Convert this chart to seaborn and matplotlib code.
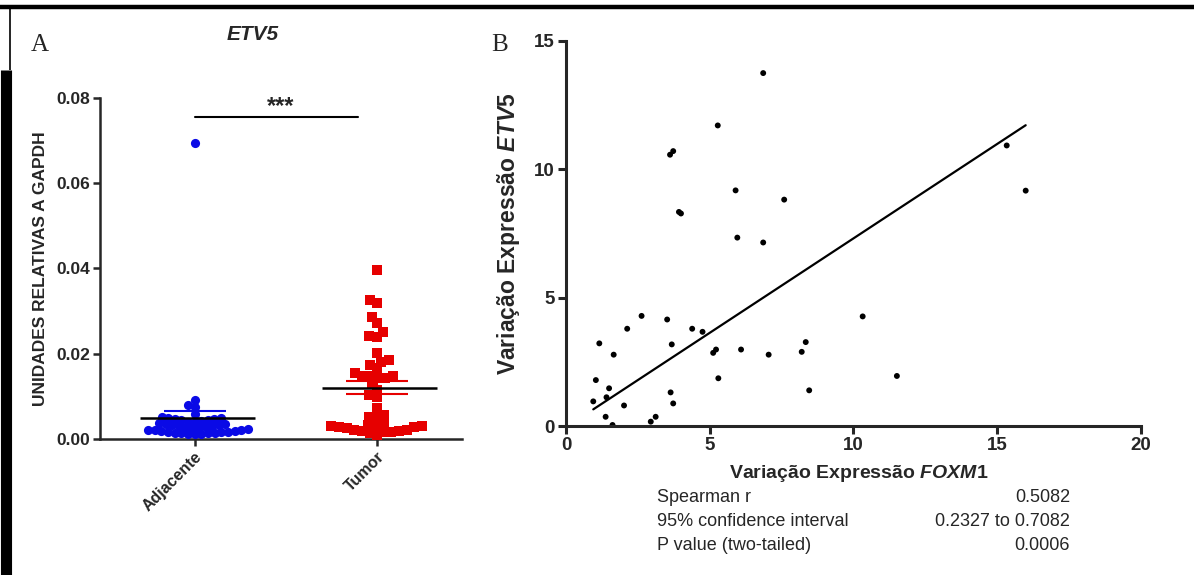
import numpy as np
import pandas as pd
import matplotlib
matplotlib.use("Agg")
import matplotlib.pyplot as plt
from matplotlib.lines import Line2D
import seaborn as sns

# ---------------- data ----------------
categories = ["Adjacente", "Tumor"]
adjacente = [0.0695, 0.0092, 0.0080, 0.0076, 0.0058, 0.0052, 0.0050, 0.0049, 0.0048,
             0.0046, 0.0045, 0.0044, 0.0042, 0.0041, 0.0039, 0.0038, 0.0036, 0.0035,
             0.0034, 0.0032, 0.0031, 0.0030, 0.0028, 0.0027, 0.0026, 0.0025, 0.0023,
             0.0022, 0.0021, 0.0020, 0.0019, 0.0018, 0.0017, 0.0016, 0.0016, 0.0015,
             0.0014, 0.0014, 0.0013, 0.0012, 0.0012, 0.0011]
tumor = [0.0396, 0.0327, 0.0319, 0.0286, 0.0272, 0.0241, 0.0239, 0.0250, 0.0202,
         0.0180, 0.0174, 0.0186, 0.0155, 0.0166, 0.0148, 0.0143, 0.0143, 0.0147,
         0.0148, 0.0130, 0.0116, 0.0098, 0.0104, 0.0073, 0.0052, 0.0049, 0.0057,
         0.0034, 0.0032, 0.0031, 0.0030, 0.0029, 0.0028, 0.0027, 0.0026,
         0.0021, 0.0020, 0.0019, 0.0018, 0.0017, 0.0016, 0.0015, 0.0006]

foxm1 = [6.86, 5.28, 3.73, 3.62, 5.90, 7.59, 3.93, 4.00, 5.96, 6.86, 15.33, 15.99,
         10.32, 2.63, 3.52, 2.13, 4.39, 4.75, 1.16, 3.68, 8.34, 1.66, 5.12, 5.22,
         6.09, 7.05, 8.20, 1.04, 5.30, 11.51, 8.46, 1.50, 1.41, 3.64, 0.95, 2.02,
         3.73, 1.38, 3.12, 2.95, 1.62]
etv5 = [13.75, 11.71, 10.71, 10.57, 9.18, 8.82, 8.34, 8.28, 7.34, 7.15, 10.93, 9.17,
        4.27, 4.29, 4.15, 3.79, 3.79, 3.67, 3.22, 3.18, 3.27, 2.78, 2.85, 2.98,
        2.98, 2.78, 2.89, 1.79, 1.86, 1.95, 1.39, 1.47, 1.12, 1.31, 0.96, 0.80,
        0.88, 0.36, 0.36, 0.17, 0.04]

# regression line as printed in the figure (slope, intercept)
fit_slope = 0.736
fit_intercept = -0.05

stat_labels = ["Spearman r", "95% confidence interval", "P value (two-tailed)"]
stat_values = ["0.5082", "0.2327 to 0.7082", "0.0006"]

# ---------------- style ----------------
sns.set_style("ticks")
plt.rcParams["font.family"] = ["Liberation Sans", "DejaVu Sans"]
plt.rcParams["mathtext.fontset"] = "custom"
plt.rcParams["mathtext.it"] = "Liberation Sans:italic:bold"
plt.rcParams["mathtext.rm"] = "Liberation Sans:bold"

fig = plt.figure(figsize=(11.94, 5.75), dpi=100)
axA = fig.add_axes([0.0838, 0.2365, 0.3032, 0.5931])
axB = fig.add_axes([0.474, 0.2591, 0.4816, 0.6696])

BLUE = "#0a0ae6"
RED = "#e60000"

# ---------------- panel A ----------------
dfA = pd.DataFrame({"grupo": [categories[0]] * len(adjacente) + [categories[1]] * len(tumor),
                    "valor": adjacente + tumor})
specs = [(categories[0], BLUE, "o", 4.6, 6.6), (categories[1], RED, "s", 5.4, 7.0)]
swarm_sets = []
for cat, col, mk, layout_size, draw_size in specs:
    n_before = len(axA.collections)
    sns.swarmplot(data=dfA[dfA.grupo == cat], x="grupo", y="valor", order=categories,
                  color=col, marker=mk, size=layout_size, ax=axA, warn_thresh=1)
    swarm_sets.append((axA.collections[n_before:], draw_size))

for i, vals in enumerate([adjacente, tumor]):
    v = np.array(vals)
    m = v.mean()
    se = v.std(ddof=1) / np.sqrt(len(v))
    c = BLUE if i == 0 else RED
    axA.hlines(m, i - 0.3, i + 0.33, color="black", lw=1.8, zorder=5)
    axA.vlines(i, m - se, m + se, color=c, lw=1.5, zorder=4)
    axA.hlines([m - se, m + se], i - 0.17, i + 0.17, color=c, lw=1.5, zorder=4)

axA.plot([0, 0.9], [0.0755, 0.0755], color="black", lw=1.5)
axA.text(0.47, 0.0752, "***", ha="center", va="bottom", fontsize=17, fontweight="bold")

axA.set_xlim(-0.52, 1.47)
axA.set_ylim(0, 0.08)
axA.set_yticks([0.0, 0.02, 0.04, 0.06, 0.08])
axA.set_yticklabels(["0.00", "0.02", "0.04", "0.06", "0.08"], fontsize=12.5, fontweight="bold")
axA.set_xticks([0, 1])
axA.set_xticklabels(categories, rotation=45, ha="right", rotation_mode="anchor",
                    fontsize=11.5, fontweight="bold")
axA.set_xlabel("")
axA.set_ylabel("UNIDADES RELATIVAS A GAPDH", fontsize=12.5, fontweight="bold")
axA.yaxis.set_label_coords(-0.145, 0.5)
sns.despine(ax=axA)
for s in ["left", "bottom"]:
    axA.spines[s].set_linewidth(1.8)
axA.tick_params(width=1.8, length=5, pad=2)

# ---------------- panel B ----------------
sns.scatterplot(x=foxm1, y=etv5, ax=axB, color="black", s=18, edgecolor="none")
xfit = np.array([min(foxm1), max(foxm1)])
sns.lineplot(x=xfit, y=fit_intercept + fit_slope * xfit, ax=axB, color="black", lw=1.6)
axB.set_xlim(0, 20)
axB.set_ylim(0, 15)
axB.set_xticks([0, 5, 10, 15, 20])
axB.set_yticks([0, 5, 10, 15])
axB.set_xticklabels(["0", "5", "10", "15", "20"], fontsize=13.5, fontweight="bold")
axB.set_yticklabels(["0", "5", "10", "15"], fontsize=13.5, fontweight="bold")
sns.despine(ax=axB)
for s in ["left", "bottom"]:
    axB.spines[s].set_linewidth(2.2)
axB.tick_params(width=2.2, length=6, pad=2)
axB.set_ylabel(r"Variação Expressão $\mathit{ETV5}$", fontsize=16.5, fontweight="bold")
axB.yaxis.set_label_coords(-0.077, 0.5)
axB.set_xlabel(r"Variação Expressão $\mathit{FOXM1}$", fontsize=14, fontweight="bold")
axB.xaxis.set_label_coords(0.51, -0.095)

# stats table under panel B
narrow = ["Liberation Sans Narrow", "Liberation Sans", "DejaVu Sans"]
for k, (lab, val) in enumerate(zip(stat_labels, stat_values)):
    yy = 1 - (497 + 24.5 * k) / 575
    fig.text(657 / 1194, yy, lab, ha="left", va="center", fontsize=13, family=narrow)
    fig.text(1070 / 1194, yy, val, ha="right", va="center", fontsize=13, family=narrow)

# panel letters and title
fig.text(40 / 1194, 1 - 45 / 575, "A", family=["Liberation Serif", "DejaVu Serif"],
         fontsize=18, ha="center", va="center")
fig.text(500 / 1194, 1 - 45 / 575, "B", family=["Liberation Serif", "DejaVu Serif"],
         fontsize=18, ha="center", va="center")
fig.text(253 / 1194, 1 - 35 / 575, "ETV5", fontsize=15, fontweight="bold", fontstyle="italic",
         ha="center", va="center")

# frame lines of the composite figure
fig.add_artist(Line2D([0, 1], [1 - 7 / 575, 1 - 7 / 575], transform=fig.transFigure,
                      color="black", lw=3.2, solid_capstyle="butt"))
fig.add_artist(Line2D([6 / 1194, 6 / 1194], [0, 1 - 70 / 575], transform=fig.transFigure,
                      color="black", lw=8, solid_capstyle="butt"))
fig.add_artist(Line2D([10 / 1194, 10 / 1194], [1 - 70 / 575, 1 - 7 / 575], transform=fig.transFigure,
                      color="black", lw=1.2, solid_capstyle="butt"))

# lay the swarms out with the compact symbol size, then draw GraphPad-style
# overlapping (larger) symbols at those positions
fig.canvas.draw()
for colls, draw_size in swarm_sets:
    for coll in colls:
        if "draw" in coll.__dict__:
            del coll.draw
        coll.set_sizes([draw_size ** 2])

fig.savefig("out.png", dpi=100)
